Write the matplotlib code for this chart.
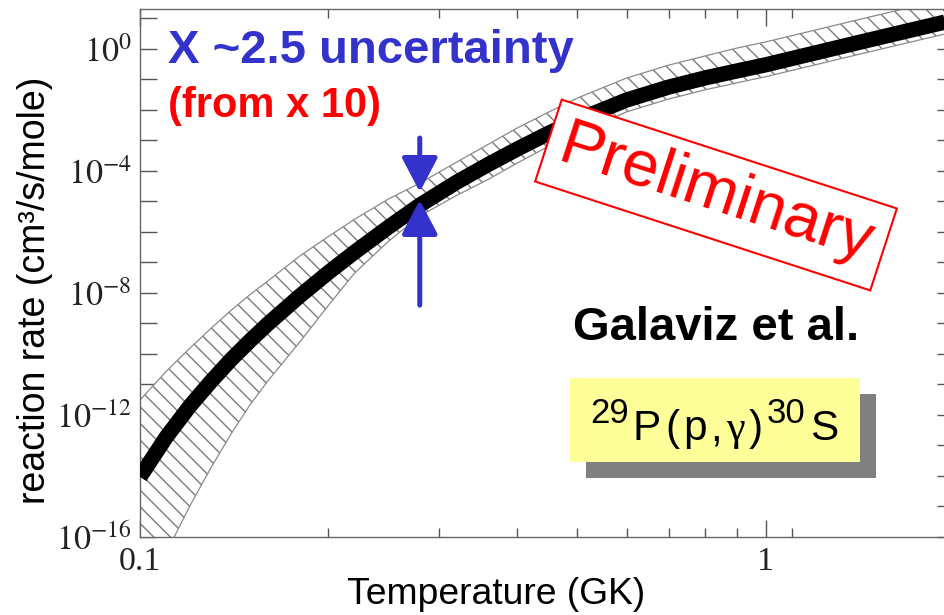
import numpy as np
import matplotlib
matplotlib.use("Agg")
import matplotlib.pyplot as plt
from matplotlib.patches import Rectangle
from matplotlib.ticker import FixedLocator, FuncFormatter, NullFormatter

# Reaction rate of 29P(p,gamma)30S versus temperature (log10 of cm^3/s/mole)
temperature = [0.10, 0.11, 0.12, 0.13, 0.14, 0.15, 0.16, 0.18, 0.20, 0.22,
               0.25, 0.28, 0.32, 0.36, 0.40, 0.45, 0.50, 0.60, 0.70, 0.80,
               0.90, 1.00, 1.20, 1.40, 1.70, 2.00]
log_rate_central = [-14.03, -12.74, -11.72, -10.89, -10.17, -9.56, -9.02, -8.10,
                    -7.33, -6.67, -5.83, -5.12, -4.38, -3.79, -3.29, -2.76,
                    -2.33, -1.67, -1.25, -0.95, -0.72, -0.52, -0.13, 0.20,
                    0.61, 0.95]
log_rate_upper = [-11.51, -10.58, -9.82, -9.15, -8.56, -8.05, -7.61, -6.79,
                  -6.15, -5.59, -4.91, -4.40, -3.72, -3.13, -2.60, -2.07,
                  -1.61, -0.95, -0.53, -0.23, 0.03, 0.23, 0.62, 0.95,
                  1.36, 1.70]
log_rate_lower = [-18.23, -16.54, -15.00, -13.71, -12.60, -11.66, -10.89, -9.61,
                  -8.41, -7.36, -6.29, -5.48, -4.81, -4.28, -3.75, -3.19,
                  -2.76, -2.06, -1.64, -1.34, -1.11, -0.91, -0.52, -0.19,
                  0.22, 0.56]

# Axis ticks
x_major = [0.1, 1.0]
x_minor = [0.2, 0.3, 0.4, 0.5, 0.6, 0.7, 0.8, 0.9, 1.1]
y_decades = list(range(-16, 2))
y_labelled = [-16, -12, -8, -4, 0]

# Uncertainty arrows at T = 0.28 GK (log10 rate)
arrow_T = 0.28
arrow_top = (-2.92, -4.69)      # tail, tip
arrow_bottom = (-8.4, -4.95)    # tail, tip

BLUE = "#3333CC"
RED = "#FF0000"

plt.rcParams["mathtext.fontset"] = "stix"
plt.rcParams["hatch.linewidth"] = 1.0

W, H = 944, 615
fig = plt.figure(figsize=(W / 100, H / 100), dpi=100)


def fx(px):
    return px / W


def fy(py):
    return 1 - py / H


ax = fig.add_axes([fx(140), fy(537), (954 - 140) / W, (537 - 9) / H])
ax.set_xscale("log")
ax.set_yscale("log")
ax.set_xlim(0.1, 2.0)
ax.set_ylim(1e-16, 10 ** 1.31)

T = np.array(temperature)
central = 10.0 ** np.array(log_rate_central)
upper = 10.0 ** np.array(log_rate_upper)
lower = 10.0 ** np.array(log_rate_lower)

ax.fill_between(T, lower, upper, facecolor="white", edgecolor="#7a7a7a",
                hatch="\\\\", linewidth=0, zorder=2)
ax.plot(T, upper, color="#8a8a8a", lw=0.9, zorder=2.5)
ax.plot(T, lower, color="#8a8a8a", lw=0.9, zorder=2.5)
ax.plot(T, central, color="black", lw=11, solid_capstyle="butt",
        solid_joinstyle="round", zorder=3)

# Arrows marking the band width
for tail, tip in (arrow_top, arrow_bottom):
    ax.annotate("", xy=(arrow_T, 10.0 ** tip), xytext=(arrow_T, 10.0 ** tail),
                arrowprops=dict(arrowstyle="-|>,head_length=2.1,head_width=1.1",
                                color=BLUE, lw=3.6, shrinkA=0, shrinkB=0),
                zorder=4)

# Ticks
ax.xaxis.set_major_locator(FixedLocator(x_major))
ax.xaxis.set_minor_locator(FixedLocator(x_minor))
ax.xaxis.set_major_formatter(FuncFormatter(lambda v, p: "%g" % v))
ax.xaxis.set_minor_formatter(NullFormatter())
ax.yaxis.set_major_locator(FixedLocator([10.0 ** d for d in y_decades]))
ax.yaxis.set_minor_locator(FixedLocator([]))


def ylab(v, p):
    d = int(round(np.log10(v)))
    return r"$10^{%d}$" % d if d in y_labelled else ""


ax.yaxis.set_major_formatter(FuncFormatter(ylab))
ax.tick_params(which="both", direction="in", top=True, right=True,
               color="#555555", width=1.0)
ax.tick_params(which="major", length=12.5, labelsize=24.5,
               labelfontfamily="Liberation Serif", labelcolor="#222222")
ax.tick_params(which="minor", length=6.5)
ax.tick_params(axis="x", which="major", pad=7)
ax.tick_params(axis="y", which="major", pad=6)
for s in ax.spines.values():
    s.set_color("#666666")
    s.set_linewidth(1.0)

# Axis titles
fig.text(fx(496), fy(594), "Temperature (GK)", ha="center", va="center",
         fontsize=26.8, family="Liberation Sans")
fig.text(fx(35), fy(290), "reaction rate (cm³/s/mole)", ha="center",
         va="center", rotation=90, fontsize=27, family="Liberation Sans")

# Annotations
fig.text(fx(168), fy(63), "X ~2.5 uncertainty", ha="left", va="baseline",
         fontsize=34, fontweight="bold", color=BLUE, family="Liberation Sans")
fig.text(fx(168), fy(117), "(from x 10)", ha="left", va="baseline",
         fontsize=30, fontweight="bold", color=RED, family="Liberation Sans")
fig.text(fx(573), fy(340), "Galaviz et al.", ha="left", va="baseline",
         fontsize=34, fontweight="bold", color="black", family="Liberation Sans")

fig.text(fx(716), fy(195), "Preliminary", ha="center", va="center",
         rotation=-18, rotation_mode="anchor", fontsize=47, color=RED,
         family="Liberation Sans", zorder=5,
         bbox=dict(boxstyle="square,pad=0.2", fc="white", ec=RED, lw=1.5))

# Reaction label in a yellow box with a grey drop shadow
fig.add_artist(Rectangle((fx(586), fy(478)), (876 - 586) / W, (478 - 394) / H,
                         transform=fig.transFigure, facecolor="#808080",
                         edgecolor="none", zorder=4))
fig.add_artist(Rectangle((fx(570), fy(462)), (860 - 570) / W, (462 - 378) / H,
                         transform=fig.transFigure, facecolor="#FFFF99",
                         edgecolor="none", zorder=4.5))

# Label set piece by piece: (text, size, baseline in px, family)
label_pieces = [("29", 25, 423, "Liberation Sans"),
                ("P", 30.5, 440, "Liberation Sans"),
                ("(", 30.5, 440, "Liberation Sans"),
                ("p", 30.5, 440, "Liberation Sans"),
                (",", 30.5, 440, "Liberation Sans"),
                ("γ", 30.5, 440, "Liberation Serif"),
                (")", 30.5, 440, "Liberation Sans"),
                ("30", 25, 423, "Liberation Sans"),
                ("S", 30.5, 440, "Liberation Sans")]
label_left, label_right = 590, 838

renderer = fig.canvas.get_renderer()
texts, widths = [], []
for s, size, base, fam in label_pieces:
    t = fig.text(0, fy(base), s, ha="left", va="baseline", fontsize=size,
                 family=fam, color="black", zorder=5)
    texts.append(t)
    widths.append(t.get_window_extent(renderer).width)
gap = (label_right - label_left - sum(widths)) / (len(texts) - 1)
xpos = label_left
for t, w in zip(texts, widths):
    t.set_x(fx(xpos))
    xpos += w + gap

fig.savefig("out.png", dpi=100)
